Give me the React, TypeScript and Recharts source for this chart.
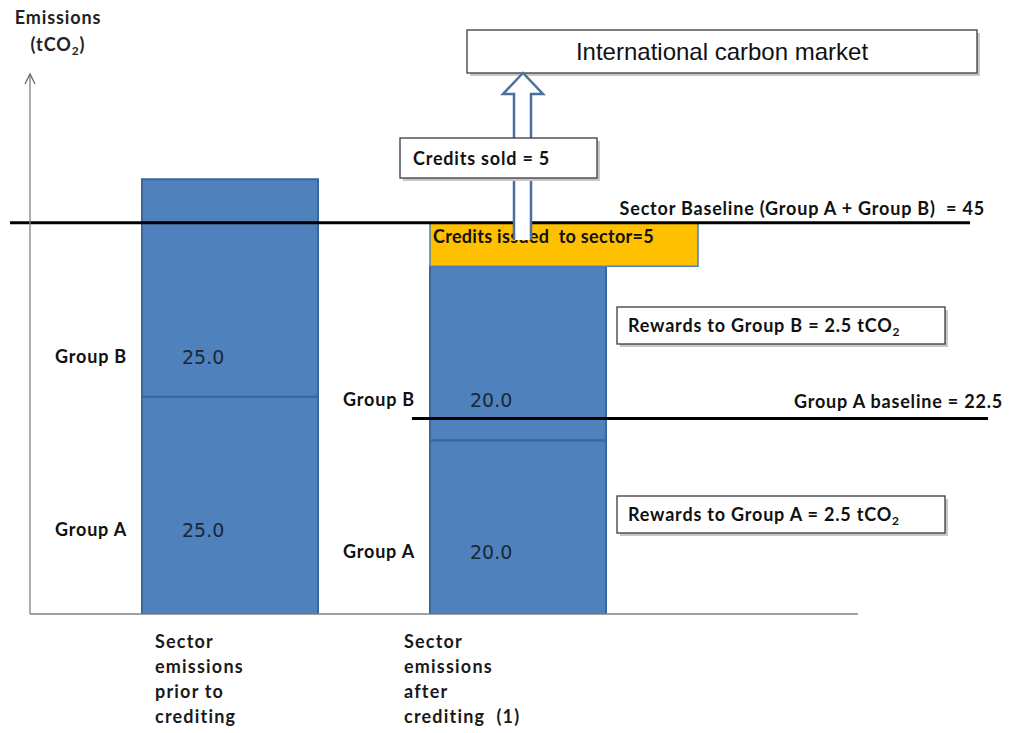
import React from "react";
import { ComposedChart, Bar, XAxis, YAxis, ReferenceLine, LabelList } from "recharts";

const categories = ["prior", "after"];
const categoryLines = [
  ["Sector", "emissions", "prior to", "crediting"],
  ["Sector", "emissions", "after", "crediting  (1)"],
];
const groupA = [25, 20];
const groupB = [25, 20];
const creditsIssued = [0, 5];
const sideLabelA = ["Group A", "Group A"];
const sideLabelB = ["Group B", "Group B"];
const sectorBaseline = 45;
const groupABaseline = 22.5;
const creditsSold = 5;
const rewardsA = 2.5;
const rewardsB = 2.5;

const data = categories.map((c, i) => ({
  cat: c,
  a: groupA[i],
  b: groupB[i],
  credits: creditsIssued[i],
}));

const LABEL_FONT = "Lato, 'Open Sans', sans-serif";
const BLUE = "#4F81BD";
const BLUE_DARK = "#3B669A";
const FS = 18;
const LS = 0.8;

const CategoryTick = (props: any) => {
  const { x, payload } = props;
  const idx = payload.index;
  const dx = idx === 0 ? -75 : -114;
  const lines = categoryLines[idx] || [];
  const base = 614;
  return (
    <g>
      {lines.map((l, i) => (
        <text
          key={i}
          x={x + dx}
          y={base + 34 + i * 25}
          fontFamily={LABEL_FONT}
          fontWeight={700}
          fontSize={18}
          letterSpacing={1.2}
          fill="#1a1a1a"
          style={{ whiteSpace: "pre" }}
        >
          {l}
        </text>
      ))}
    </g>
  );
};

const makeSegLabel = (kind: "a" | "b") => (props: any) => {
  const { x, y, width, height, value, index } = props;
  const ty = kind === "a" ? y + height / 2 + 25 : y + height - 40;
  const side = kind === "a" ? sideLabelA[index] : sideLabelB[index];
  return (
    <g>
      <text
        x={x + 40}
        y={ty + 7}
        fontFamily="'DejaVu Sans', sans-serif"
        fontSize={19}
        fill="#1c2735"
      >
        {Number(value).toFixed(1)}
      </text>
      <text
        x={x - 15}
        y={ty + 6}
        textAnchor="end"
        fontFamily={LABEL_FONT}
        fontWeight={700}
        fontSize={FS}
        letterSpacing={LS}
        fill="#111"
      >
        {side}
      </text>
    </g>
  );
};

const CreditsShape = (props: any) => {
  const { x, y, height, value } = props;
  const v = Array.isArray(value) ? value[1] - value[0] : value;
  if (!v || height <= 0) return null;
  return (
    <g>
      <rect x={x} y={y} width={268} height={height} fill="#FFC000" stroke={BLUE} strokeWidth={1.5} />
      <text
        x={x + 3}
        y={y + 20}
        fontFamily={LABEL_FONT}
        fontWeight={700}
        fontSize={FS}
        letterSpacing={0.3}
        fill="#111"
        style={{ whiteSpace: "pre" }}
      >
        {`Credits issued  to sector=${v}`}
      </text>
    </g>
  );
};

const SectorLine = (props: any) => {
  const { x1, y1, x2 } = props;
  return (
    <g>
      <line x1={x1 - 20} y1={y1} x2={x2 + 112} y2={y1} stroke="#000" strokeWidth={3} />
      <text
        x={x2 + 127}
        y={y1 - 8}
        textAnchor="end"
        fontFamily={LABEL_FONT}
        fontWeight={700}
        fontSize={FS}
        letterSpacing={LS}
        fill="#111"
        style={{ whiteSpace: "pre" }}
      >
        {`Sector Baseline (Group A + Group B)  = ${sectorBaseline}`}
      </text>
    </g>
  );
};

const GroupALine = (props: any) => {
  const { x1, y1, x2 } = props;
  return (
    <g>
      <line x1={x1 + 382} y1={y1} x2={x2 + 130} y2={y1} stroke="#000" strokeWidth={3} />
      <text
        x={x2 + 145}
        y={y1 - 10}
        textAnchor="end"
        fontFamily={LABEL_FONT}
        fontWeight={700}
        fontSize={FS}
        letterSpacing={LS}
        fill="#111"
      >
        {`Group A baseline = ${groupABaseline}`}
      </text>
    </g>
  );
};

const Box = ({ x, y, w, h, children }: any) => (
  <g>
    <rect x={x + 3} y={y + 3} width={w} height={h} fill="#c8c8c8" />
    <rect x={x} y={y} width={w} height={h} fill="#fff" stroke="#3a3a3a" strokeWidth={1.3} />
    {children}
  </g>
);

const Overlay = () => (
  <svg
    width={1021}
    height={733}
    style={{ position: "absolute", left: 0, top: 0, pointerEvents: "none" }}
  >
    <text x={58} y={24} textAnchor="middle" fontFamily={LABEL_FONT} fontWeight={700} fontSize={18} letterSpacing={0.9} fill="#222">
      Emissions
    </text>
    <text x={58} y={51} textAnchor="middle" fontFamily={LABEL_FONT} fontWeight={700} fontSize={18} letterSpacing={0.9} fill="#222">
      (tCO<tspan fontSize={12} dy={4}>2</tspan><tspan dy={-4}>)</tspan>
    </text>
    <polyline points="25,84 30,74 35,84" fill="none" stroke="#666" strokeWidth={1.3} />

    <Box x={467} y={30} w={510} h={43}>
      <text x={722} y={60} textAnchor="middle" fontFamily="'Liberation Sans', Arial, sans-serif" fontSize={24} fill="#111">
        International carbon market
      </text>
    </Box>

    <path
      d="M514,240 L514,94 L503,94 L523,73 L543,94 L531,94 L531,240"
      fill="#fff"
      stroke="#4A6FA0"
      strokeWidth={2.5}
      strokeLinejoin="miter"
    />

    <Box x={400} y={138} w={197} h={40}>
      <text x={413} y={165} fontFamily={LABEL_FONT} fontWeight={700} fontSize={FS} letterSpacing={LS} fill="#111">
        {`Credits sold = ${creditsSold}`}
      </text>
    </Box>

    <Box x={617} y={307} w={328} h={37}>
      <text x={628} y={332} fontFamily={LABEL_FONT} fontWeight={700} fontSize={FS} letterSpacing={LS} fill="#111">
        {`Rewards to Group B = ${rewardsB} tCO`}
        <tspan fontSize={12} dy={4}>2</tspan>
      </text>
    </Box>

    <Box x={617} y={496} w={328} h={37}>
      <text x={628} y={521} fontFamily={LABEL_FONT} fontWeight={700} fontSize={FS} letterSpacing={LS} fill="#111">
        {`Rewards to Group A = ${rewardsA} tCO`}
        <tspan fontSize={12} dy={4}>2</tspan>
      </text>
    </Box>
  </svg>
);

export default function App() {
  return (
    <div style={{ position: "absolute", left: 0, top: 0, width: 1021, height: 733, background: "#fff" }}>
      <ComposedChart
        width={1021}
        height={733}
        data={data}
        margin={{ top: 75, right: 163, bottom: 0, left: 0 }}
      >
        <XAxis
          dataKey="cat"
          height={119}
          padding={{ left: 56, right: 196 }}
          axisLine={{ stroke: "#808080", strokeWidth: 1.3 }}
          tickLine={false}
          tickSize={0}
          tickMargin={0}
          tick={<CategoryTick />}
          interval={0}
        />
        <YAxis
          width={30}
          domain={[0, 62]}
          type="number"
          tick={false}
          tickLine={false}
          axisLine={{ stroke: "#808080", strokeWidth: 1.3 }}
          allowDataOverflow
        />
        <Bar dataKey="a" stackId="s" barSize={176} fill={BLUE} stroke={BLUE_DARK} strokeWidth={2} isAnimationActive={false}>
          <LabelList dataKey="a" content={makeSegLabel("a")} />
        </Bar>
        <Bar dataKey="b" stackId="s" barSize={176} fill={BLUE} stroke={BLUE_DARK} strokeWidth={2} isAnimationActive={false}>
          <LabelList dataKey="b" content={makeSegLabel("b")} />
        </Bar>
        <Bar dataKey="credits" stackId="s" barSize={176} shape={<CreditsShape />} isAnimationActive={false} />
        <ReferenceLine y={groupABaseline} shape={<GroupALine />} />
        <ReferenceLine y={sectorBaseline} shape={<SectorLine />} />
      </ComposedChart>
      <Overlay />
    </div>
  );
}
